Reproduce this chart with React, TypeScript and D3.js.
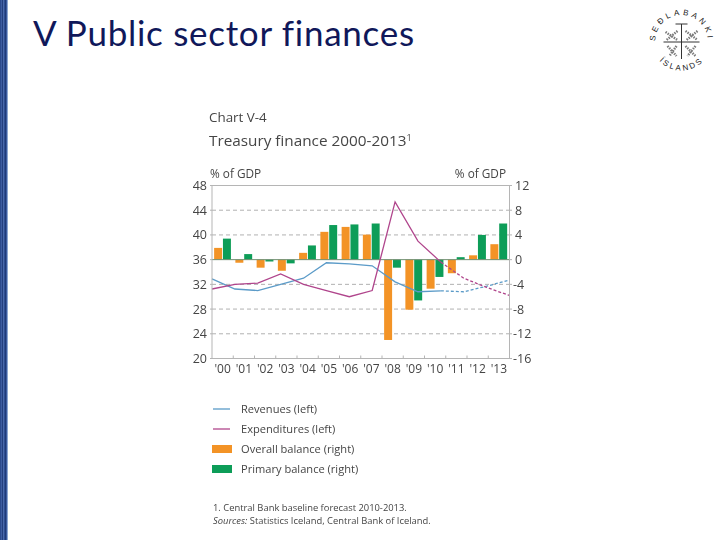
import React from "react";
import * as d3 from "d3";

const years = ["'00","'01","'02","'03","'04","'05","'06","'07","'08","'09","'10","'11","'12","'13"];
const overall = [1.9,-0.5,-1.3,-1.8,1.1,4.5,5.3,4.05,-13,-8.1,-4.7,-2.2,0.7,2.5];
const primary = [3.4,0.9,-0.3,-0.6,2.3,5.6,5.7,5.85,-1.3,-6.6,-2.8,0.4,4,5.85];
const revenues = [32.9,31.25,31,32,33,35.5,35.3,35,32.4,30.8,30.95,30.8,31.7,32.7];
const expenditures = [31.25,32,32.2,33.7,32,31,30,31,45.35,39,35.6,33,31.5,30.2];
const leftTicks = [48,44,40,36,32,28,24,20];
const rightTicks = [12,8,4,0,-4,-8,-12,-16];
const gridLeft = [44,40,32,28,24];
const legendItems = ["Revenues (left)","Expenditures (left)","Overall balance (right)","Primary balance (right)"];
const sealTop = "SEÐLABANKI";
const sealBottom = "ÍSLANDS";
const stripeShades = ["#2c4a8c","#3d5ca0","#24407f","#4a69aa","#2f4e92","#1f3a78","#3a5a9e","#8ea6d0"];

const solidCount = 11;
const W = 720, H = 540;
const m = { l: 212, r: 509.5, t: 185.5, b: 358.5 };
const font = "'Open Sans', sans-serif";
const textCol = "#454545";
const orange = "#f39325";
const green = "#0f9d58";
const blue = "#5b9bc8";
const pink = "#b0458c";

export default function App() {
  const yL = d3.scaleLinear().domain([20, 48]).range([m.b, m.t]);
  const yR = d3.scaleLinear().domain([-16, 12]).range([m.b, m.t]);
  const xBand = d3.scaleBand().domain(years).range([m.l, m.r]);
  const xPoint = d3.scalePoint().domain(years).range([m.l, m.r]);
  const bw = xBand.bandwidth();
  const barW = bw * 0.375;
  const line = d3.line<number>().x((_, i) => xPoint(years[i])!).y(d => yL(d));

  const seriesLine = (vals: number[], col: string, key: string) => {
    const solid = vals.slice(0, solidCount);
    const dashed = vals.slice(solidCount - 1);
    const lineD = d3.line<number>().x((_, i) => xPoint(years[i + solidCount - 1])!).y(d => yL(d));
    return (
      <g key={key} fill="none" stroke={col} strokeWidth={1.3}>
        <path d={line(solid)!} />
        <path d={lineD(dashed)!} strokeDasharray="3 2" />
      </g>
    );
  };

  const cx = 681.5, cy = 41;
  return (
    <svg width={W} height={H} viewBox={`0 0 ${W} ${H}`} style={{ position: "fixed", left: 0, top: 0, background: "#fff", fontFamily: font }}>
      <defs>
        <filter id="soft" x="-5%" y="-5%" width="110%" height="110%">
          <feGaussianBlur stdDeviation="0.3" />
        </filter>
        <path id="sealT" d={`M${cx - 25},${cy + 8} A26.2,26.2 0 1 1 ${cx + 25},${cy + 8}`} />
        <path id="sealB" d={`M${cx - 21},${cy + 21} A30,30 0 0 0 ${cx + 21},${cy + 21}`} />
      </defs>
      {stripeShades.map((c, i) => (
        <rect key={i} x={i} y={0} width={1} height={H} fill={c} />
      ))}
      <text x={33} y={46} fontSize={35} fill="#10185a" fontFamily="Lato, sans-serif" letterSpacing={0.72} style={{ fontVariantLigatures: "none" }}>V Public sector finances</text>

      <g fill="#222" fontSize={8} fontFamily="'Liberation Sans', sans-serif">
        <text letterSpacing={3.2} textAnchor="middle"><textPath href="#sealT" startOffset="50%">{sealTop}</textPath></text>
        <text letterSpacing={2.2} textAnchor="middle"><textPath href="#sealB" startOffset="50%">{sealBottom}</textPath></text>
      </g>
      <g stroke="#333" fill="none">
        <path d={`M${cx - 6},${cy - 17} H${cx + 6} M${cx},${cy - 17} V${cy + 18} M${cx - 18},${cy + 1} H${cx + 18}`} strokeWidth={1} />
        <path d={`M${cx - 16},${cy - 9} l12,8 M${cx - 4},${cy - 10} l-11,9 M${cx + 4},${cy - 10} l12,9 M${cx + 16},${cy - 10} l-11,9 M${cx - 14},${cy + 5} l9,10 M${cx - 5},${cy + 5} l-7,10 M${cx + 4},${cy + 5} l10,10 M${cx + 14},${cy + 5} l-8,10`} strokeWidth={2.4} strokeDasharray="1.5 1" opacity={0.65} />
      </g>

      <g filter="url(#soft)">
        <text x={209} y={122} fontSize={13.4} fill={textCol}>Chart V-4</text>
        <text x={209} y={146} fontSize={15.3} fill={textCol}>Treasury finance 2000-2013<tspan fontSize={9} dy={-5}>1</tspan></text>
        <text x={210} y={178} fontSize={11.8} fill={textCol}>% of GDP</text>
        <text x={506} y={178} fontSize={11.8} fill={textCol} textAnchor="end">% of GDP</text>

        {gridLeft.map(t => (
          <line key={t} x1={m.l} x2={m.r} y1={yL(t)} y2={yL(t)} stroke="#a8a8a8" strokeDasharray="4 3" strokeWidth={0.9} />
        ))}

        {years.map((y, i) => {
          const x0 = xBand(y)! + bw * 0.1;
          const x1 = x0 + barW + bw * 0.04;
          return (
            <g key={y}>
              <rect x={x0} width={barW} y={Math.min(yR(0), yR(overall[i]))} height={Math.abs(yR(overall[i]) - yR(0))} fill={orange} />
              <rect x={x1} width={barW} y={Math.min(yR(0), yR(primary[i]))} height={Math.abs(yR(primary[i]) - yR(0))} fill={green} />
            </g>
          );
        })}

        <line x1={m.l} x2={m.r} y1={yR(0)} y2={yR(0)} stroke="#6f8f70" strokeWidth={1} />
        {seriesLine(revenues, blue, "rev")}
        {seriesLine(expenditures, pink, "exp")}

        <rect x={m.l} y={m.t} width={m.r - m.l} height={m.b - m.t} fill="none" stroke="#b5b5b5" strokeWidth={1} />
        {leftTicks.map(t => (
          <g key={t}>
            <line x1={m.l - 2} x2={m.l} y1={yL(t)} y2={yL(t)} stroke="#b5b5b5" />
            <text x={207} y={yL(t) + 4.5} fontSize={12.5} fill={textCol} textAnchor="end">{t}</text>
          </g>
        ))}
        {rightTicks.map(t => (
          <g key={t}>
            <line x1={m.r} x2={m.r + 2.5} y1={yR(t)} y2={yR(t)} stroke="#b5b5b5" />
            <text x={t < 0 ? 513 : 515} y={yR(t) + 4.5} fontSize={12.5} fill={textCol}>{t}</text>
          </g>
        ))}
        {years.map((y, i) => (
          <g key={y}>
            {i > 0 && <line x1={xBand(y)!} x2={xBand(y)!} y1={m.b} y2={m.b - 3} stroke="#b5b5b5" />}
            <text x={xBand(y)! + bw / 2} y={372.5} fontSize={12} fill={textCol} textAnchor="middle">{y}</text>
          </g>
        ))}

        {legendItems.map((t, i) => {
          const yy = 409 + i * 20;
          return (
            <g key={t}>
              {i < 2
                ? <line x1={213} x2={230} y1={yy} y2={yy} stroke={i === 0 ? blue : pink} strokeWidth={1.3} />
                : <rect x={212} y={yy - 4} width={20} height={8} fill={i === 2 ? orange : green} />}
              <text x={241} y={yy + 4} fontSize={11.1} fill={textCol}>{t}</text>
            </g>
          );
        })}
        <text x={213} y={511} fontSize={9.4} fill={textCol}>1. Central Bank baseline forecast 2010-2013.</text>
        <text x={213} y={524} fontSize={9.4} fill={textCol}><tspan fontStyle="italic">Sources:</tspan> Statistics Iceland, Central Bank of Iceland.</text>
      </g>
    </svg>
  );
}
